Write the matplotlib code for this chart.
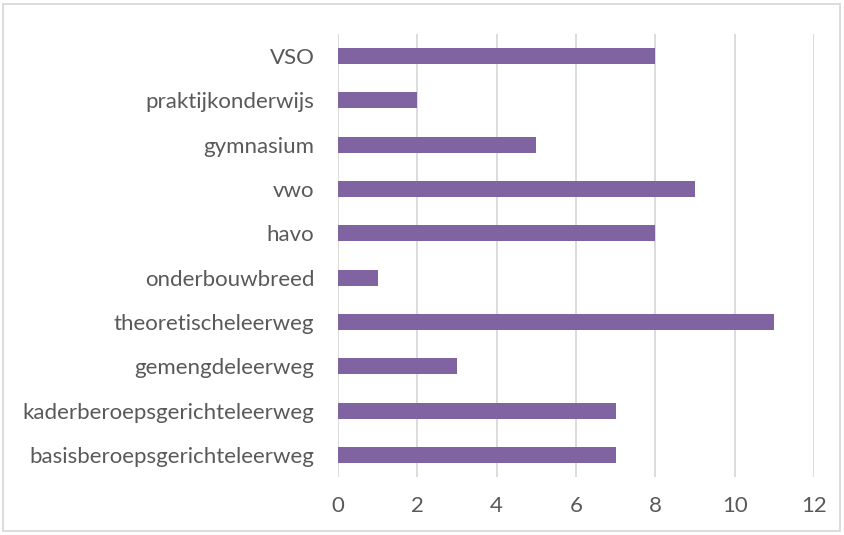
import matplotlib
matplotlib.use("Agg")
import matplotlib.pyplot as plt
from matplotlib.patches import Rectangle

categories = ["basisberoepsgerichteleerweg", "kaderberoepsgerichteleerweg", "gemengdeleerweg",
              "theoretischeleerweg", "onderbouwbreed", "havo", "vwo", "gymnasium",
              "praktijkonderwijs", "VSO"]
values = [7, 7, 3, 11, 1, 8, 9, 5, 2, 8]
xticks = [0, 2, 4, 6, 8, 10, 12]

plt.rcParams['font.family'] = ['Lato', 'DejaVu Sans']
text_color = '#595959'

fig = plt.figure(figsize=(8.44, 5.35), dpi=100)
ax = fig.add_axes([0.4005, 0.1084, 0.5640, 0.8280])

ypos = list(range(len(categories)))
ax.barh(ypos, values, height=0.36, color='#8064A2', zorder=3)
ax.set_ylim(-0.5, len(categories) - 0.5)
ax.set_xlim(0, 12)
ax.set_xticks(xticks)
ax.set_xticklabels([str(t) for t in xticks])
ax.set_yticks(ypos)
ax.set_yticklabels(categories)
ax.tick_params(axis='both', length=0, labelsize=16, colors=text_color)
ax.tick_params(axis='y', pad=17)
ax.tick_params(axis='x', pad=14)
ax.xaxis.grid(True, color='#D9D9D9', linewidth=1.3, zorder=0)
ax.yaxis.grid(False)
for s in ax.spines.values():
    s.set_visible(False)

fig.patches.append(Rectangle((3 / 844, 4 / 535), 837 / 844, 527 / 535, transform=fig.transFigure,
                             fill=False, edgecolor='#D9D9D9', linewidth=1.3))

fig.savefig("out.png", dpi=100)
